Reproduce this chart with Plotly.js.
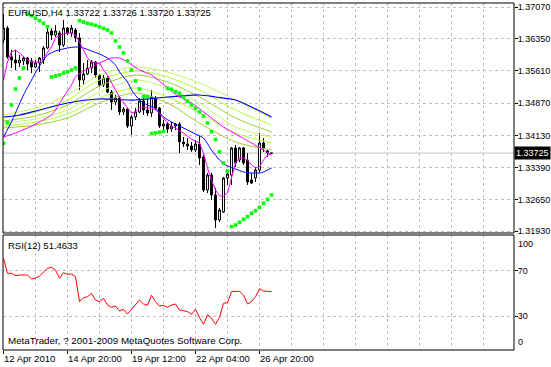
<!DOCTYPE html>
<html><head><meta charset="utf-8">
<script src="https://cdn.plot.ly/plotly-3.0.1.min.js"></script>
<style>html,body{margin:0;padding:0;background:#fff;}#chart{width:551px;height:367px;}</style>
</head><body><div id="chart"></div>
<script>
const symbol = 'EURUSD,H4';
const xLabels = ['12 Apr 2010','14 Apr 20:00','19 Apr 12:00','22 Apr 04:00','26 Apr 20:00'];
const xLabelBars = [0,16,32,48,64];
const priceTicks = [1.37070,1.36350,1.35610,1.34870,1.34130,1.33390,1.32650,1.31930];
const rsiLevels = [30,70];
const rsiBounds = [0,100];

const openP = [1.36320,1.36595,1.35930,1.35861,1.35792,1.35838,1.35907,1.35838,1.35700,1.35792,
1.35861,1.36136,1.36526,1.36434,1.36480,1.36205,1.36595,1.36480,1.36549,1.36366,
1.35402,1.35540,1.35677,1.35815,1.35517,1.35287,1.35448,1.35127,1.34897,1.34989,
1.34668,1.34736,1.34346,1.34553,1.34668,1.34920,1.34714,1.34645,1.34989,1.34759,
1.34346,1.34392,1.34278,1.34346,1.34392,1.33979,1.33933,1.33887,1.33796,1.33933,
1.33635,1.32878,1.33222,1.32763,1.32189,1.32373,1.33153,1.33222,1.33842,1.33566,
1.33842,1.33566,1.33107,1.33153,1.33337,1.33956,1.33773,1.33722];
const highP = [1.36916,1.36641,1.36090,1.36090,1.35976,1.35930,1.35930,1.35907,1.35861,1.35930,
1.36182,1.36595,1.36595,1.36664,1.36526,1.36779,1.36618,1.36664,1.36595,1.36480,
1.35792,1.35861,1.35861,1.35838,1.35540,1.35517,1.35494,1.35172,1.35058,1.35035,
1.34782,1.34759,1.34599,1.34759,1.34989,1.35012,1.34989,1.35172,1.35035,1.34782,
1.34484,1.34438,1.34438,1.34415,1.34438,1.34094,1.34071,1.33979,1.34025,1.34117,
1.33681,1.33268,1.33268,1.32924,1.32465,1.33176,1.33268,1.33864,1.33910,1.33864,
1.33864,1.33727,1.33268,1.33406,1.34186,1.34071,1.33796,1.33726];
const lowP = [1.36251,1.35884,1.35677,1.35631,1.35700,1.35746,1.35631,1.35562,1.35677,1.35585,
1.35769,1.36113,1.36320,1.36389,1.36044,1.36159,1.36434,1.36389,1.36274,1.35172,
1.35287,1.35517,1.35562,1.35448,1.35241,1.35241,1.35104,1.34714,1.34828,1.34599,
1.34599,1.34300,1.34140,1.34484,1.34645,1.34599,1.34576,1.34553,1.34714,1.34300,
1.34209,1.34186,1.34209,1.34255,1.33727,1.33864,1.33796,1.33750,1.33750,1.33451,
1.32832,1.32809,1.32648,1.32006,1.32144,1.32350,1.32993,1.32993,1.33406,1.33520,
1.33451,1.32993,1.33015,1.33061,1.33291,1.33750,1.33635,1.33720];
const closeP = [1.36595,1.35930,1.35861,1.35792,1.35861,1.35907,1.35769,1.35700,1.35792,1.35907,
1.36136,1.36503,1.36434,1.36526,1.36205,1.36595,1.36480,1.36595,1.36366,1.35402,
1.35540,1.35677,1.35815,1.35517,1.35287,1.35448,1.35127,1.34897,1.34989,1.34668,
1.34736,1.34346,1.34553,1.34668,1.34920,1.34714,1.34645,1.35012,1.34759,1.34346,
1.34392,1.34278,1.34346,1.34392,1.33979,1.33933,1.33887,1.33796,1.33933,1.33612,
1.32878,1.33222,1.32763,1.32189,1.32419,1.33153,1.33245,1.33842,1.33497,1.33842,
1.33497,1.33061,1.33038,1.33337,1.33956,1.33842,1.33727,1.33725];

const sarValues = [1.33949,1.34422,1.34828,1.35195,1.35448,1.35677,1.36916,1.36877,1.36818,1.36763,
1.36703,1.36625,1.35471,1.35494,1.35517,1.35562,1.35585,1.35631,1.35677,1.36763,
1.36733,1.36703,1.36680,1.36657,1.36625,1.36588,1.36549,1.36480,1.36297,1.36159,
1.36021,1.35838,1.35631,1.35379,1.35195,1.35019,1.35019,1.34174,1.34186,1.34202,
1.34225,1.35211,1.35188,1.35133,1.35097,1.35005,1.34920,1.34828,1.34752,1.34668,
1.34576,1.34415,1.34216,1.34037,1.33757,1.33497,1.33314,1.32036,1.32075,1.32137,
1.32205,1.32265,1.32343,1.32403,1.32481,1.32573,1.32664,1.32763];

const rsiValues = [80.9,67.7,67.7,65.6,66.2,66.2,66.2,62.7,63.3,65.3,
68.6,72.1,73.0,70.6,63.3,68.2,66.8,67.1,64.7,42.6,
46.2,47.0,50.0,44.1,42.6,45.6,39.7,37.7,38.8,34.4,
35.9,31.8,35.9,39.7,44.1,40.6,39.4,48.3,42.6,38.8,
39.4,37.7,39.7,40.6,35.3,34.7,33.8,31.5,35.9,28.8,
22.7,31.1,28.2,22.7,28.8,41.2,41.8,51.5,51.8,51.8,
48.5,40.6,42.6,47.0,54.1,52.1,51.8,51.4633];

const fastMagenta = [1.35402,1.35815,1.36044,1.36090,1.36021,1.35930,1.35861,1.35815,1.35815,1.35815,
1.35907,1.36044,1.36159,1.36366,1.36434,1.36457,1.36480,1.36480,1.36434,1.36274,
1.36090,1.35907,1.35815,1.35792,1.35792,1.35631,1.35517,1.35333,1.35172,1.35012,
1.34874,1.34759,1.34645,1.34668,1.34759,1.34782,1.34759,1.34759,1.34714,1.34645,
1.34530,1.34415,1.34346,1.34300,1.34232,1.34186,1.34117,1.34048,1.34002,1.33956,
1.33727,1.33383,1.33107,1.32878,1.32740,1.32740,1.32809,1.33176,1.33497,1.33612,
1.33612,1.33566,1.33451,1.33383,1.33406,1.33566,1.33681,1.33704];

const slowMagentaBars = [0,3,6,9,12,13,15,17,18,20,22,24,27,29,31,34,37,41,44,47,51,55,58,62,65,67];
const slowMagenta = [1.34094,1.34186,1.34300,1.34438,1.34599,1.34714,1.35012,1.35287,1.35471,1.35608,
1.35700,1.35792,1.35907,1.35907,1.35815,1.35631,1.35517,1.35218,1.35012,1.34874,
1.34599,1.34323,1.34163,1.33956,1.33796,1.33681];

const fastBlueBars = [0,2,3,5,7,9,11,13,16,18,20,22,24,26,28,29,31,32,34,36,38,40,42,44,46,48,50,52,54,56,58,60,62,64,65,67];
const fastBlue = [1.34094,1.34438,1.34645,1.35058,1.35402,1.35723,1.35976,1.36067,1.36136,1.36159,
1.36136,1.36067,1.35998,1.35907,1.35746,1.35585,1.35356,1.35172,1.34943,1.34828,
1.34759,1.34553,1.34438,1.34346,1.34255,1.34163,1.34071,1.33796,1.33566,1.33428,
1.33360,1.33291,1.33268,1.33268,1.33291,1.33383];

const slowBlueBars = [0,4,9,16,24,33,41,49,53,58,62,67];
const slowBlue = [1.34553,1.34599,1.34714,1.34874,1.34966,1.34943,1.35012,1.35058,1.35012,1.34943,1.34782,1.34553];

const ribbonBars = [0,8,16,24,33,41,49,58,67];
const ribbon1 = [1.34599,1.34759,1.35058,1.35517,1.35700,1.35585,1.35333,1.34943,1.34530];
const ribbon2 = [1.34530,1.34668,1.34943,1.35402,1.35608,1.35471,1.35172,1.34714,1.34369];
const ribbon3 = [1.34461,1.34576,1.34828,1.35264,1.35517,1.35356,1.35012,1.34530,1.34209];
const ribbon4 = [1.34415,1.34507,1.34714,1.35127,1.35402,1.35218,1.34874,1.34323,1.34094];
const ribbon5 = [1.34346,1.34438,1.34622,1.34989,1.35218,1.35012,1.34645,1.34186,1.33956];
const ribbon6 = [1.34300,1.34369,1.34530,1.34874,1.35104,1.34874,1.34415,1.33979,1.33796];

const bars = openP.map((_, i) => i);
const last = bars.length - 1;
const lastClose = closeP[last];

const ribbonColors = ['#c6f56a','#adff2f','#9acd32','#c6f56a','#adff2f','#9acd32'];
const ribbons = [ribbon1, ribbon2, ribbon3, ribbon4, ribbon5, ribbon6];

const traces = [];
traces.push({type:'candlestick', x:bars, open:openP, high:highP, low:lowP, close:closeP,
  xaxis:'x', yaxis:'y', whiskerwidth:0, hoverinfo:'skip',
  increasing:{line:{color:'#000', width:1}, fillcolor:'#ffffff'},
  decreasing:{line:{color:'#000', width:1}, fillcolor:'#000000'}});
ribbons.forEach((r, k) => traces.push({type:'scatter', mode:'lines', x:ribbonBars, y:r,
  line:{color:ribbonColors[k], width:1, shape:'spline', smoothing:0.8}, hoverinfo:'skip'}));
traces.push({type:'scatter', mode:'lines', x:slowBlueBars, y:slowBlue,
  line:{color:'#0000ff', width:1.2, shape:'spline', smoothing:0.8}, hoverinfo:'skip'});
traces.push({type:'scatter', mode:'lines', x:fastBlueBars, y:fastBlue,
  line:{color:'#0000ff', width:1, shape:'spline', smoothing:0.6}, hoverinfo:'skip'});
traces.push({type:'scatter', mode:'lines', x:slowMagentaBars, y:slowMagenta,
  line:{color:'#ff00ff', width:1, shape:'spline', smoothing:0.6}, hoverinfo:'skip'});
traces.push({type:'scatter', mode:'lines', x:bars, y:fastMagenta,
  line:{color:'#ff00ff', width:1}, hoverinfo:'skip'});
traces.push({type:'scatter', mode:'markers', x:bars, y:sarValues,
  marker:{color:'#00ff00', size:3.6, symbol:'square'}, hoverinfo:'skip'});
traces.push({type:'scatter', mode:'lines', x:bars, y:rsiValues, xaxis:'x', yaxis:'y2',
  line:{color:'#ff0000', width:1}, hoverinfo:'skip'});

const grid = {showgrid:true, gridcolor:'#c0c0c0', gridwidth:1, griddash:'3px,3px'};
const mainDomain = [0.33718, 1];
const rsiDomain = [0, 0.33141];
const rsiRange = [0, 101.5];
const fontFamily = 'Liberation Sans, Arial, sans-serif';
const axisFont = {family:fontFamily, size:9, color:'#000'};

const layout = {
  width:551, height:367,
  margin:{l:3, r:37, t:3, b:17, pad:0},
  paper_bgcolor:'#ffffff', plot_bgcolor:'#ffffff',
  showlegend:false, hovermode:false,
  font:{family:fontFamily, size:9.5, color:'#000'},
  xaxis:Object.assign({anchor:'y2', range:[-0.125, 127.625], tickmode:'array',
    tickvals:xLabelBars, ticktext:xLabels, ticks:'outside', ticklen:3, tickcolor:'#000',
    ticklabelposition:'outside right', zeroline:false, showline:false, fixedrange:true,
    tickfont:{family:fontFamily, size:9.5, color:'#000'},
    rangeslider:{visible:false},
    minor:{tickmode:'array', tickvals:[8,24,40,56,72,80,88,96,104,112,120],
      showgrid:true, gridcolor:'#c0c0c0', gridwidth:1, griddash:'3px,3px', ticks:''}}, grid),
  yaxis:Object.assign({domain:mainDomain, range:[1.318911, 1.371687], side:'right',
    tickmode:'array', tickvals:priceTicks, ticktext:priceTicks.map(v => v.toFixed(5)),
    ticks:'outside', ticklen:3, tickcolor:'#000', ticklabelstandoff:-2, tickfont:axisFont,
    zeroline:false, fixedrange:true}, grid),
  yaxis2:Object.assign({domain:rsiDomain, range:rsiRange, side:'right', anchor:'x',
    tickmode:'array', tickvals:rsiLevels, ticktext:rsiLevels.map(String),
    ticks:'outside', ticklen:3, tickcolor:'#000', ticklabelstandoff:-2, tickfont:axisFont,
    zeroline:false, fixedrange:true}, grid),
  shapes:[
    {type:'line', xref:'paper', x0:0, x1:1, yref:'y', y0:lastClose, y1:lastClose,
      line:{color:'#c0c0c0', width:1}, layer:'below'},
    {type:'rect', xref:'paper', yref:'paper', x0:0, x1:1, y0:mainDomain[0], y1:mainDomain[1],
      line:{color:'#000', width:1}, fillcolor:'rgba(0,0,0,0)'},
    {type:'rect', xref:'paper', yref:'paper', x0:0, x1:1, y0:rsiDomain[0], y1:rsiDomain[1],
      line:{color:'#000', width:1}, fillcolor:'rgba(0,0,0,0)'}
  ],
  annotations:[
    {xref:'paper', yref:'paper', x:0, y:1, xanchor:'left', yanchor:'top', xshift:3, yshift:-2,
      showarrow:false, text:symbol + ' ' + [openP[last], highP[last], lowP[last], closeP[last]].map(v => v.toFixed(5)).join(' ')},
    {xref:'paper', yref:'y', x:1, y:lastClose, xanchor:'left', yanchor:'middle', xshift:0,
      showarrow:false, text:lastClose.toFixed(5), bgcolor:'#000', borderpad:1,
      font:{color:'#fff', size:9, family:fontFamily}},
    {xref:'paper', yref:'paper', x:0, y:rsiDomain[1], xanchor:'left', yanchor:'top', xshift:3, yshift:-3,
      showarrow:false, text:'RSI(12) ' + rsiValues[last].toFixed(4)},
    {xref:'paper', yref:'paper', x:0, y:0, xanchor:'left', yanchor:'bottom', xshift:3, yshift:2,
      showarrow:false, text:'MetaTrader, ? 2001-2009 MetaQuotes Software Corp.', font:{size:9.8}},
    {xref:'paper', yref:'paper', x:1, y:rsiDomain[1] * rsiBounds[1] / rsiRange[1], xanchor:'left', yanchor:'top', xshift:2,
      showarrow:false, text:String(rsiBounds[1]), font:axisFont},
    {xref:'paper', yref:'paper', x:1, y:rsiDomain[0], xanchor:'left', yanchor:'bottom', xshift:2, yshift:1,
      showarrow:false, text:String(rsiBounds[0]), font:axisFont}
  ]
};

Plotly.newPlot('chart', traces, layout, {staticPlot:true, displayModeBar:false});
</script></body></html>
